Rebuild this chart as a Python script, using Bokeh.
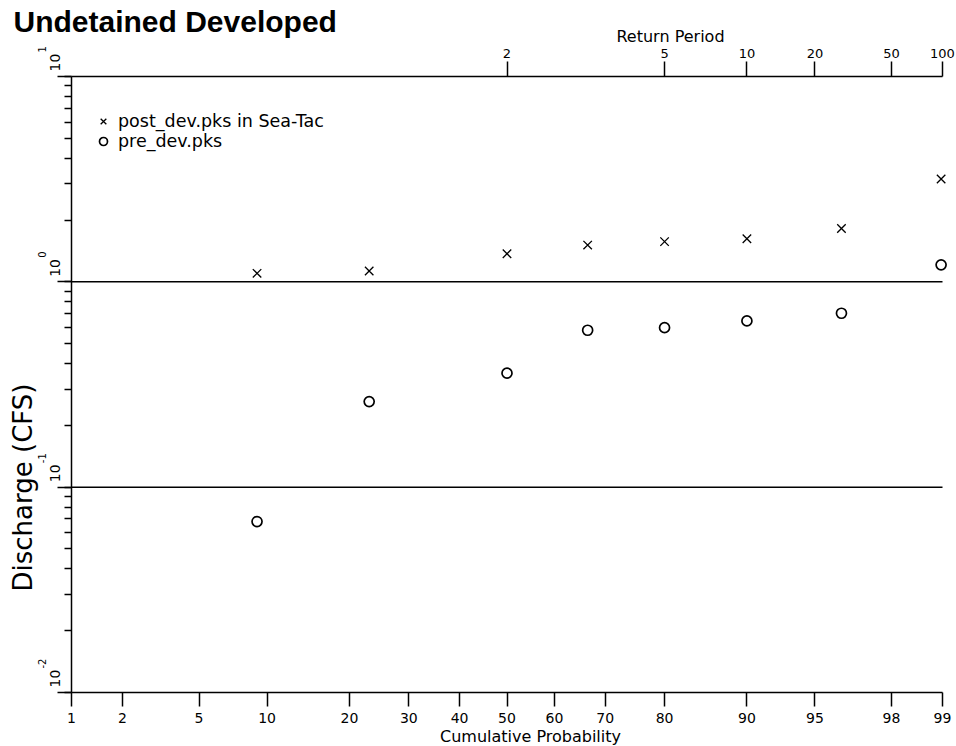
from statistics import NormalDist
from math import pi

from bokeh.plotting import figure
from bokeh.models import (Range1d, LinearAxis, FixedTicker, CustomJSTickFormatter,
                          Label, Legend, LegendItem, ColumnDataSource)
from bokeh.embed import file_html
from bokeh.resources import INLINE

# ---------------- data ----------------
title_text = "Undetained Developed"
series_names = ["post_dev.pks in Sea-Tac", "pre_dev.pks"]
cum_prob_pct = [9.09, 23.08, 50.0, 66.67, 80.0, 90.0, 96.3, 98.98]
post_dev_cfs = [1.10, 1.13, 1.37, 1.51, 1.57, 1.62, 1.82, 3.17]
pre_dev_cfs = [0.068, 0.261, 0.359, 0.581, 0.598, 0.645, 0.703, 1.21]
prob_ticks = [1, 2, 5, 10, 20, 30, 40, 50, 60, 70, 80, 90, 95, 98, 99]
return_period_ticks = [2, 5, 10, 20, 50, 100]
y_exponents = [-2, -1, 0, 1]
x_title = "Cumulative Probability"
top_title = "Return Period"
y_title = "Discharge (CFS)"

# ---------------- layout (pixels) ----------------
W, H = 956, 746
PLOT_L, PLOT_R, PLOT_T, PLOT_B = 71, 942, 76, 692
FONT = "DejaVu Sans"
nd = NormalDist()


def z(pct):
    return nd.inv_cdf(pct / 100.0)


x_lo = z(prob_ticks[0])
x_hi = z(prob_ticks[-1])
px_per_z = (PLOT_R - PLOT_L) / (x_hi - x_lo)
x_start = x_lo - PLOT_L / px_per_z
x_end = x_hi + (W - PLOT_R) / px_per_z

e_lo, e_hi = y_exponents[0], y_exponents[-1]
px_per_dec = (PLOT_B - PLOT_T) / (e_hi - e_lo)
y_start = 10.0 ** (e_lo - (H - PLOT_B) / px_per_dec)
y_end = 10.0 ** (e_hi + PLOT_T / px_per_dec)
y_lo_v, y_hi_v = 10.0 ** e_lo, 10.0 ** e_hi

p = figure(width=W, height=H,
           x_range=Range1d(x_start, x_end),
           y_range=Range1d(y_start, y_end),
           y_axis_type="log", x_axis_type=None,
           output_backend="svg", toolbar_location=None,
           min_border=0, min_border_left=0, min_border_right=0,
           min_border_top=0, min_border_bottom=0)
p.outline_line_color = None
p.xgrid.visible = False
p.ygrid.visible = False
p.background_fill_color = "white"
p.border_fill_color = "white"

# ---- left (log) axis ----
ya = p.yaxis[0]
ya.fixed_location = x_lo
ya.bounds = (y_lo_v, y_hi_v)
ya.axis_line_color = "black"
ya.axis_line_width = 1.5
ya.major_tick_out = 14
ya.major_tick_in = 0
ya.major_tick_line_width = 1.5
ya.minor_tick_out = 7
ya.minor_tick_in = 0
ya.minor_tick_line_width = 1.5
ya.formatter = CustomJSTickFormatter(code="return '';")

NEAREST = """
let best = 0;
for (let i = 1; i < pos.length; i++) {
  if (Math.abs(pos[i] - tick) < Math.abs(pos[best] - tick)) best = i;
}
return labels[best];
"""

# ---- bottom probability axis ----
prob_pos = [z(v) for v in prob_ticks]
bottom = LinearAxis(
    ticker=FixedTicker(ticks=prob_pos, minor_ticks=[]),
    formatter=CustomJSTickFormatter(
        args=dict(pos=prob_pos, labels=[str(v) for v in prob_ticks]), code=NEAREST),
    bounds=(x_lo, x_hi), fixed_location=y_lo_v)
bottom.axis_line_width = 1.5
bottom.major_tick_out = 14
bottom.major_tick_in = 0
bottom.major_tick_line_width = 1.5
bottom.minor_tick_line_color = None
bottom.major_label_text_font = FONT
bottom.major_label_text_font_size = "14px"
bottom.major_label_text_color = "black"
bottom.major_label_standoff = 6
p.add_layout(bottom, "below")

# ---- top return-period axis ----
rp_pos = [z(100.0 * (1 - 1.0 / t)) for t in return_period_ticks]
top = LinearAxis(
    ticker=FixedTicker(ticks=rp_pos, minor_ticks=[]),
    formatter=CustomJSTickFormatter(
        args=dict(pos=rp_pos, labels=[str(v) for v in return_period_ticks]), code=NEAREST),
    bounds=(x_lo, x_hi), fixed_location=y_hi_v)
top.axis_line_width = 1.5
top.major_tick_out = 15
top.major_tick_in = 0
top.major_tick_line_width = 1.5
top.minor_tick_line_color = None
top.major_label_text_font = FONT
top.major_label_text_font_size = "13px"
top.major_label_text_color = "black"
top.major_label_standoff = 4
p.add_layout(top, "above")

# ---- horizontal decade lines inside the plot area ----
grid_vals = [10.0 ** e for e in y_exponents[1:-1]]
gsrc = ColumnDataSource(dict(x0=[x_lo] * len(grid_vals), x1=[x_hi] * len(grid_vals),
                             y=grid_vals))
p.segment(x0="x0", x1="x1", y0="y", y1="y", source=gsrc,
          line_color="black", line_width=1.5)

# ---- data ----
xs = [z(v) for v in cum_prob_pct]
src = ColumnDataSource(dict(x=xs, post=post_dev_cfs, pre=pre_dev_cfs))
r_post = p.scatter("x", "post", source=src, marker="x", size=12,
                   line_color="black", line_width=1.3)
r_pre = p.scatter("x", "pre", source=src, marker="circle", size=10,
                  line_color="black", fill_color=None, line_width=1.7)

legend = Legend(items=[LegendItem(label=series_names[0], renderers=[r_post]),
                       LegendItem(label=series_names[1], renderers=[r_pre])],
                location=(PLOT_L + 22, H - 151), padding=0, spacing=0, margin=0,
                border_line_color=None, background_fill_alpha=0,
                label_text_font=FONT, label_text_font_size="17.5px",
                label_text_color="black",
                glyph_width=20, glyph_height=20, label_height=20,
                label_standoff=5)
p.add_layout(legend)

# ---- rotated y tick labels (10 with exponent) ----
for e in y_exponents:
    p.add_layout(Label(x=54, y=10.0 ** e, x_units="screen", y_units="data",
                       y_offset=5, text="10", angle=pi / 2,
                       text_align="left", text_baseline="middle",
                       text_font=FONT, text_font_size="14px", text_color="black"))
    p.add_layout(Label(x=41, y=10.0 ** e, x_units="screen", y_units="data",
                       y_offset=24, text=str(e), angle=pi / 2,
                       text_align="left", text_baseline="middle",
                       text_font=FONT, text_font_size="10px", text_color="black"))

# ---- titles ----
p.add_layout(Label(x=13, y=H - 21, x_units="screen", y_units="screen",
                   text=title_text, text_font="Liberation Sans", text_font_style="bold",
                   text_font_size="30px", text_align="left",
                   text_baseline="middle", text_color="black"))
p.add_layout(Label(x=670, y=H - 36, x_units="screen", y_units="screen",
                   text=top_title, text_font=FONT, text_font_size="16px",
                   text_align="center", text_baseline="middle", text_color="black"))
p.add_layout(Label(x=530, y=H - 736, x_units="screen", y_units="screen",
                   text=x_title, text_font=FONT, text_font_size="16px",
                   text_align="center", text_baseline="middle", text_color="black"))
p.add_layout(Label(x=22, y=H - 487, x_units="screen", y_units="screen",
                   text=y_title, text_font=FONT, text_font_size="26px", angle=pi / 2,
                   text_align="center", text_baseline="middle", text_color="black"))

open("out.html", "w").write(file_html(p, INLINE))
